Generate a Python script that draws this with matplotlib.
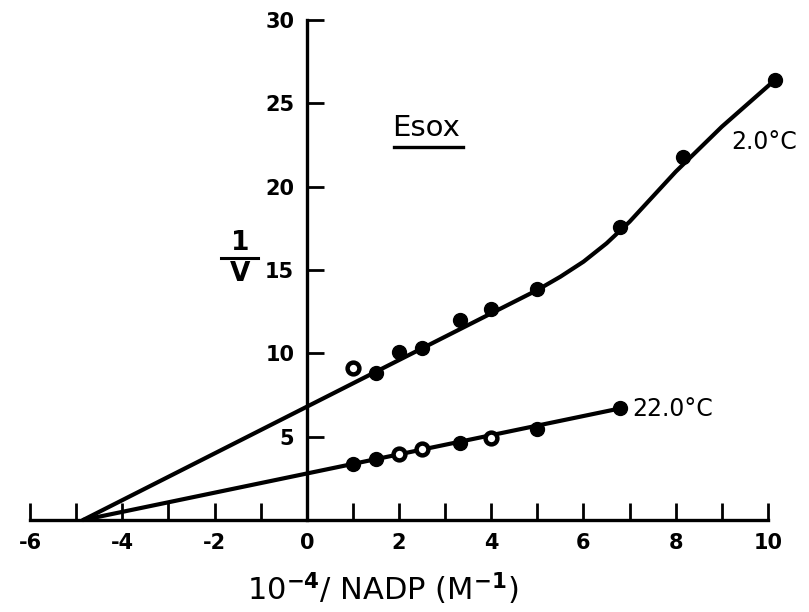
import matplotlib
matplotlib.use('Agg')
import matplotlib.pyplot as plt

# Esox, 1/V vs 10^-4/NADP at two temperatures
x_cold = [1.0, 1.5, 2.0, 2.5, 3.33, 4.0, 5.0, 6.8, 8.15, 10.15]
y_cold = [9.1, 8.8, 10.1, 10.3, 12.0, 12.65, 13.85, 17.6, 21.8, 26.4]
open_cold = [True, False, False, False, False, False, False, False, False, False]

x_warm = [1.0, 1.5, 2.0, 2.5, 3.33, 4.0, 5.0, 6.8]
y_warm = [3.35, 3.65, 3.95, 4.25, 4.6, 4.95, 5.45, 6.7]
open_warm = [False, False, True, True, False, True, False, False]

# hand drawn lines
fit_cold_x = [-4.85, 4.0, 4.5, 5.0, 5.5, 6.0, 6.5, 7.0, 7.5, 8.0, 9.0, 10.15]
fit_cold_y = [0, 12.4, 13.1, 13.8, 14.6, 15.5, 16.6, 17.9, 19.4, 20.9, 23.6, 26.4]
fit_warm_x = [-4.85, 6.8]
fit_warm_y = [0, 6.7]

x_ticks = list(range(-6, 11))
x_labels = [str(t) if t % 2 == 0 else '' for t in x_ticks]
y_ticks = [5, 10, 15, 20, 25, 30]

fig = plt.figure(figsize=(8.09, 6.12), dpi=100)
ax = fig.add_axes([0.0371, 0.1503, 0.9122, 0.817])


def draw_points(xs, ys, opens):
    for x, y, o in zip(xs, ys, opens):
        if o:
            ax.plot(x, y, 'o', ms=8.5, mfc='white', mec='black', mew=3.2, clip_on=False, zorder=4)
        else:
            ax.plot(x, y, 'o', ms=10, color='black', clip_on=False, zorder=4)


ax.plot(fit_cold_x, fit_cold_y, 'k-', lw=3, clip_on=False, solid_capstyle='round', solid_joinstyle='round')
ax.plot(fit_warm_x, fit_warm_y, 'k-', lw=3, clip_on=False, solid_capstyle='round')
draw_points(x_cold, y_cold, open_cold)
draw_points(x_warm, y_warm, open_warm)

ax.set_xlim(-6, 10)
ax.set_ylim(0, 30)
ax.spines['left'].set_position(('data', 0))
ax.spines['top'].set_visible(False)
ax.spines['right'].set_visible(False)
ax.spines['left'].set_linewidth(2.4)
ax.spines['bottom'].set_linewidth(2.4)

ax.set_xticks(x_ticks)
ax.set_xticklabels(x_labels, fontsize=15, fontweight='bold')
ax.set_yticks(y_ticks)
ax.set_yticklabels([str(t) for t in y_ticks], fontsize=15, fontweight='bold')
ax.tick_params(axis='x', direction='in', length=12, width=2, pad=9)
ax.tick_params(axis='y', direction='in', length=12, width=2, pad=9)

ax.set_xlabel(r'10$^{\mathbf{-4}}$/ NADP (M$^{\mathbf{-1}}$)', fontsize=22)
ax.xaxis.set_label_coords(0.478, -0.1)

# 1/V label
ax.text(-1.45, 16.6, '1', fontsize=19, fontweight='bold', ha='center', va='center')
ax.plot([-1.85, -1.05], [15.75, 15.75], 'k-', lw=2.2)
ax.text(-1.45, 14.75, 'V', fontsize=19, fontweight='bold', ha='center', va='center')

ax.text(1.85, 23.5, 'Esox', fontsize=21, ha='left', va='center')
ax.plot([1.9, 3.38], [22.4, 22.4], 'k-', lw=2.4)

ax.text(9.2, 22.7, '2.0°C', fontsize=17, ha='left', va='center')
ax.text(7.05, 6.66, '22.0°C', fontsize=17, ha='left', va='center')

plt.savefig('out.png', dpi=100)
